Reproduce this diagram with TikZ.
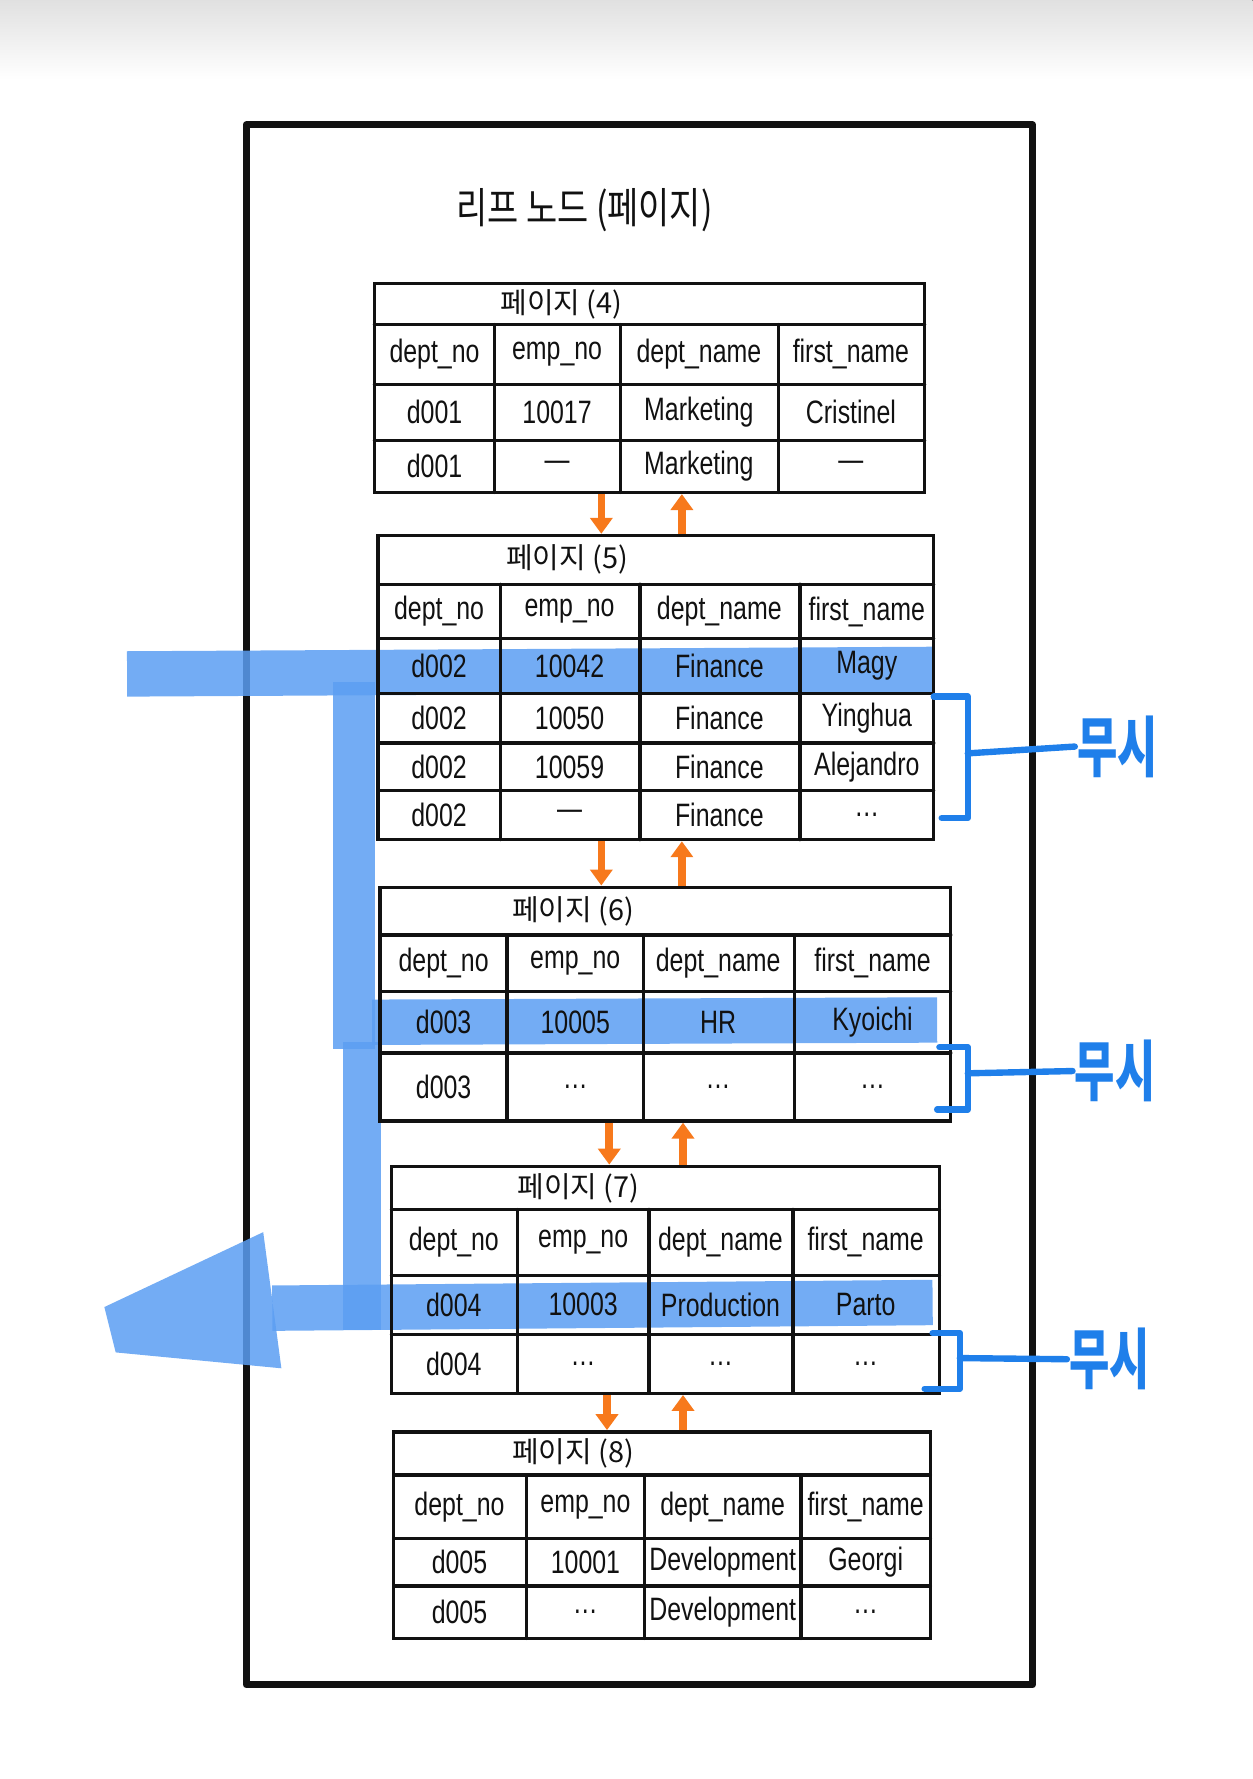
\documentclass[tikz,border=0pt]{standalone}
\usepackage{fontspec}
\usepackage{graphicx}
\setmainfont{Liberation Sans}
\newfontfamily\kr{Noto Sans CJK KR}
\usepackage{tikz}
\usetikzlibrary{arrows.meta,fit,calc}
\definecolor{sketchink}{HTML}{111111}
\definecolor{sketchblue}{HTML}{5B9EF2}
\definecolor{sketchbracket}{HTML}{1F7FEA}
\definecolor{sketchorange}{HTML}{F7791C}

\begin{document}
\begin{tikzpicture}[
  x=0.02cm,y=-0.02cm,
  font=\fontsize{12.5}{14}\selectfont,
  ink/.style={line width=1.7pt,line cap=round,line join=round,sketchink},
  pagebox/.style={draw=sketchink,line width=1.7pt,inner sep=0pt},
  cell/.style={inner sep=1pt,text=sketchink},
  pagetitle/.style={font=\kr\fontsize{14.5}{16}\selectfont,text=sketchink},
  scan/.style={line width=#1,sketchblue,opacity=0.85},
  link/.style={line width=3.8pt,sketchorange,-{Triangle[length=8pt,width=11pt]}},
  skip/.style={line width=3.2pt,sketchbracket,line cap=round,line join=round},
  skiplabel/.style={font=\kr\bfseries\fontsize{22}{22}\selectfont,text=sketchbracket,inner sep=1pt}
]
\useasboundingbox (0,0) rectangle (1104,1568);
\fill[top color=black!12,bottom color=white] (0,0) rectangle (1104,70);

% leaf node frame
\draw[line width=3.6pt,line join=round,sketchink] (217,110) rectangle (910,1485);
\node[font=\kr\fontsize{17}{20}\selectfont,text=sketchink] (leaftitle) at (515,185) {\scalebox{1}[1.25]{리프 노드 (페이지)}};

% scan path
\draw[scan=0.8cm] (112,594) -- (822,590);
\draw[scan=0.74cm] (312,601) -- (312,925);
\draw[scan=0.68cm] (319,918) -- (319,1172);
\draw[scan=0.8cm] (328,901) -- (826,899);
\draw[scan=0.8cm] (240,1153) -- (822,1148);
\fill[sketchblue,opacity=0.85] (92,1152) -- (232,1086) -- (248,1206) -- (102,1192) -- cycle;

% page 4
\node[pagebox,fit={(330,250)(815,434)}] (p4) {};
\draw[ink] (330,286) -- (815,286) (330,339) -- (815,339) (330,388) -- (815,388);
\draw[ink] (436,286) -- (436,434) (547,286) -- (547,434) (686,286) -- (686,434);
\node[pagetitle] (p4-title) at (495,268) {페이지 (4)};
\foreach \x/\t [count=\i] in {383/dept\_no,491/emp\_no,616/dept\_name,750/first\_name}
  \node[cell] (p4-h\i) at (\x,312) {\scalebox{1}[1.3]{\t}};
\foreach \x/\t [count=\i] in {383/d001,491/10017,616/Marketing,750/Cristinel}
  \node[cell] (p4-a\i) at (\x,363) {\scalebox{1}[1.3]{\t}};
\foreach \x/\t [count=\i] in {383/d001,491/—,616/Marketing,750/—}
  \node[cell] (p4-b\i) at (\x,411) {\scalebox{1}[1.3]{\t}};

% page 5
\node[pagebox,fit={(333,472)(823,740)}] (p5) {};
\draw[ink] (333,515) -- (823,515) (333,563) -- (823,563) (333,611) -- (823,611)
  (333,655) -- (823,655) (333,697) -- (823,697);
\draw[ink] (441,515) -- (441,740) (564,515) -- (564,740) (705,515) -- (705,740);
\node[pagetitle] (p5-title) at (500,493) {페이지 (5)};
\foreach \x/\t [count=\i] in {387/dept\_no,502/emp\_no,634/dept\_name,764/first\_name}
  \node[cell] (p5-h\i) at (\x,539) {\scalebox{1}[1.3]{\t}};
\foreach \x/\t [count=\i] in {387/d002,502/10042,634/Finance,764/Magy}
  \node[cell] (p5-a\i) at (\x,587) {\scalebox{1}[1.3]{\t}};
\foreach \x/\t [count=\i] in {387/d002,502/10050,634/Finance,764/Yinghua}
  \node[cell] (p5-b\i) at (\x,633) {\scalebox{1}[1.3]{\t}};
\foreach \x/\t [count=\i] in {387/d002,502/10059,634/Finance,764/Alejandro}
  \node[cell] (p5-c\i) at (\x,676) {\scalebox{1}[1.3]{\t}};
\foreach \x/\t [count=\i] in {387/d002,502/—,634/Finance,764/\ldots}
  \node[cell] (p5-d\i) at (\x,718) {\scalebox{1}[1.3]{\t}};

% page 6
\node[pagebox,fit={(335,782)(838,988)}] (p6) {};
\draw[ink] (335,824) -- (838,824) (335,874) -- (838,874) (335,928) -- (838,928);
\draw[ink] (447,824) -- (447,988) (567,824) -- (567,988) (700,824) -- (700,988);
\node[pagetitle] (p6-title) at (505,803) {페이지 (6)};
\foreach \x/\t [count=\i] in {391/dept\_no,507/emp\_no,633/dept\_name,769/first\_name}
  \node[cell] (p6-h\i) at (\x,849) {\scalebox{1}[1.3]{\t}};
\foreach \x/\t [count=\i] in {391/d003,507/10005,633/HR,769/Kyoichi}
  \node[cell] (p6-a\i) at (\x,901) {\scalebox{1}[1.3]{\t}};
\foreach \x/\t [count=\i] in {391/d003,507/\ldots,633/\ldots,769/\ldots}
  \node[cell] (p6-b\i) at (\x,958) {\scalebox{1}[1.3]{\t}};

% page 7
\node[pagebox,fit={(345,1028)(828,1228)}] (p7) {};
\draw[ink] (345,1066) -- (828,1066) (345,1124) -- (828,1124) (345,1176) -- (828,1176);
\draw[ink] (456,1066) -- (456,1228) (572,1066) -- (572,1228) (699,1066) -- (699,1228);
\node[pagetitle] (p7-title) at (510,1047) {페이지 (7)};
\foreach \x/\t [count=\i] in {400/dept\_no,514/emp\_no,635/dept\_name,763/first\_name}
  \node[cell] (p7-h\i) at (\x,1095) {\scalebox{1}[1.3]{\t}};
\foreach \x/\t [count=\i] in {400/d004,514/10003,635/Production,763/Parto}
  \node[cell] (p7-a\i) at (\x,1150) {\scalebox{1}[1.3]{\t}};
\foreach \x/\t [count=\i] in {400/d004,514/\ldots,635/\ldots,763/\ldots}
  \node[cell] (p7-b\i) at (\x,1202) {\scalebox{1}[1.3]{\t}};

% page 8
\node[pagebox,fit={(347,1262)(820,1444)}] (p8) {};
\draw[ink] (347,1300) -- (820,1300) (347,1356) -- (820,1356) (347,1398) -- (820,1398);
\draw[ink] (464,1300) -- (464,1444) (568,1300) -- (568,1444) (706,1300) -- (706,1444);
\node[pagetitle] (p8-title) at (505,1281) {페이지 (8)};
\foreach \x/\t [count=\i] in {405/dept\_no,516/emp\_no,637/dept\_name,763/first\_name}
  \node[cell] (p8-h\i) at (\x,1328) {\scalebox{1}[1.3]{\t}};
\foreach \x/\t [count=\i] in {405/d005,516/10001,637/Development,763/Georgi}
  \node[cell] (p8-a\i) at (\x,1377) {\scalebox{1}[1.3]{\t}};
\foreach \x/\t [count=\i] in {405/d005,516/\ldots,637/Development,763/\ldots}
  \node[cell] (p8-b\i) at (\x,1421) {\scalebox{1}[1.3]{\t}};

% sibling links
\draw[link] (530,0 |- p4.south) -- (530,0 |- p5.north);
\draw[link] (601,0 |- p5.north) -- (601,0 |- p4.south);
\draw[link] (530,0 |- p5.south) -- (530,0 |- p6.north);
\draw[link] (601,0 |- p6.north) -- (601,0 |- p5.south);
\draw[link] (537,0 |- p6.south) -- (537,0 |- p7.north);
\draw[link] (602,0 |- p7.north) -- (602,0 |- p6.south);
\draw[link] (535,0 |- p7.south) -- (535,0 |- p8.north);
\draw[link] (602,0 |- p8.north) -- (602,0 |- p7.south);

% skipped rows
\node[skiplabel] (mu5) at (985,658) {\scalebox{1}[1.5]{무시}};
\coordinate (s5) at (853,664);
\draw[skip] (823,614) -- (853,614) -- (853,721) -- (830,721);
\draw[skip] (s5) -- (mu5.west);

\node[skiplabel] (mu6) at (983,944) {\scalebox{1}[1.5]{무시}};
\coordinate (s6) at (853,946);
\draw[skip] (828,923) -- (853,923) -- (853,978) -- (826,978);
\draw[skip] (s6) -- (mu6.west);

\node[skiplabel] (mu7) at (978,1198) {\scalebox{1}[1.5]{무시}};
\coordinate (s7) at (846,1197);
\draw[skip] (822,1175) -- (846,1175) -- (846,1224) -- (815,1224);
\draw[skip] (s7) -- (mu7.west);
\end{tikzpicture}
\end{document}
